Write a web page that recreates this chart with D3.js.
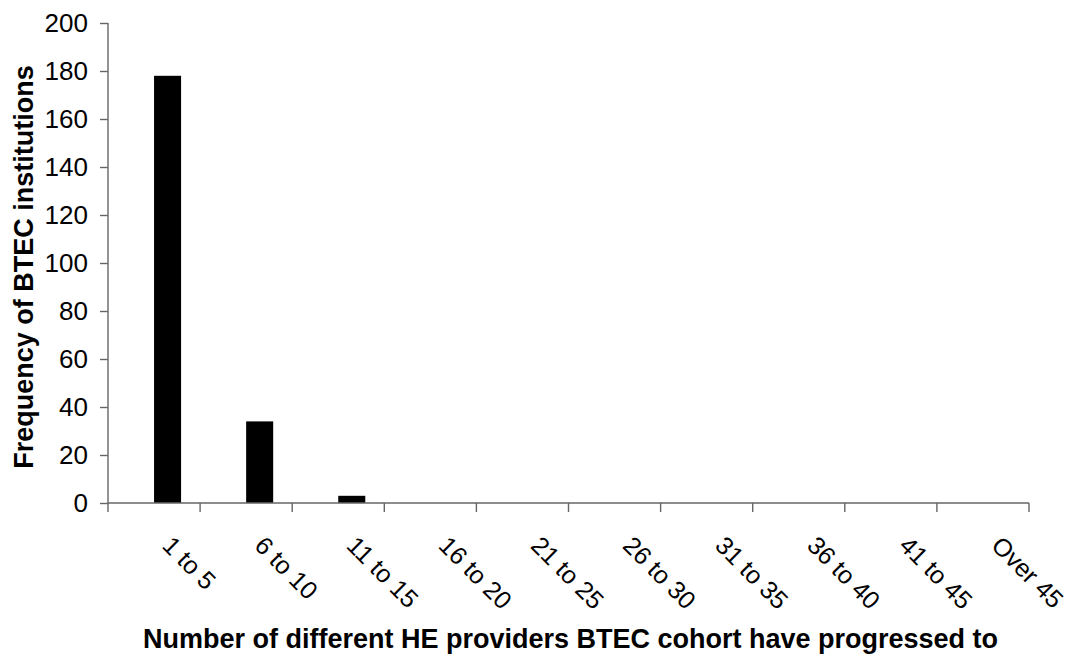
<!DOCTYPE html>
<html>
<head>
<meta charset="utf-8">
<script src="https://cdn.jsdelivr.net/npm/d3@7"></script>
<style>
  html, body { margin: 0; padding: 0; background: #fff; }
  svg { display: block; }
  text { font-family: "Liberation Sans", Arial, sans-serif; fill: #000; }
</style>
</head>
<body>
<svg id="chart" width="1077" height="657"></svg>
<script>
// ---- data ----
const categories = ["1 to 5", "6 to 10", "11 to 15", "16 to 20", "21 to 25",
                    "26 to 30", "31 to 35", "36 to 40", "41 to 45", "Over 45"];
const frequency = [178, 34, 3, 0, 0, 0, 0, 0, 0, 0];
const seriesSlots = ["(empty)", "Frequency"];
const yTicks = [0, 20, 40, 60, 80, 100, 120, 140, 160, 180, 200];
const xTitle = "Number of different HE providers BTEC cohort have progressed to";
const yTitle = "Frequency of BTEC institutions";

(function () {
  // ---- layout ----
  const svg = d3.select("#chart");
  const mLeft = 108, mRight = 1029, mTop = 23, mBottom = 503;
  const axisColor = "#666666";

  const x = d3.scaleBand().domain(categories).range([mLeft, mRight]).padding(0);
  const xInner = d3.scaleBand().domain(seriesSlots).range([0, x.bandwidth()])
    .paddingInner(0).paddingOuter(0.7037);
  const y = d3.scaleLinear().domain([0, 200]).range([mBottom, mTop]);

  // bars
  svg.append("g").selectAll("rect")
    .data(categories.map((c, i) => ({ c, v: frequency[i] })))
    .join("rect")
    .attr("x", d => x(d.c) + xInner("Frequency"))
    .attr("width", xInner.bandwidth())
    .attr("y", d => y(d.v))
    .attr("height", d => y(0) - y(d.v))
    .attr("fill", "#000");

  // y axis
  const yAxis = svg.append("g").attr("transform", `translate(${mLeft},0)`)
    .call(d3.axisLeft(y).tickValues(yTicks).tickSize(8).tickPadding(12).tickFormat(d3.format("d")));
  yAxis.select(".domain").attr("stroke", axisColor).attr("stroke-width", 1.4)
    .attr("d", `M0,${mTop}V${mBottom}`);
  yAxis.selectAll(".tick line").attr("stroke", axisColor).attr("stroke-width", 1.4);
  yAxis.selectAll(".tick text").attr("font-size", 26)
    .attr("font-family", "'Liberation Sans', Arial, sans-serif").attr("fill", "#000");

  // x axis (ticks at category boundaries)
  const boundaries = categories.map(c => x(c)).concat([x(categories[categories.length - 1]) + x.bandwidth()]);
  const xAxisG = svg.append("g");
  xAxisG.append("line").attr("x1", mLeft).attr("x2", mRight).attr("y1", mBottom).attr("y2", mBottom)
    .attr("stroke", axisColor).attr("stroke-width", 1.4);
  xAxisG.selectAll("line.tk").data(boundaries).join("line").attr("class", "tk")
    .attr("x1", d => d).attr("x2", d => d).attr("y1", mBottom).attr("y2", mBottom + 9)
    .attr("stroke", axisColor).attr("stroke-width", 1.4);

  xAxisG.selectAll("text.lbl").data(categories).join("text").attr("class", "lbl")
    .attr("transform", d => `translate(${x(d) + x.bandwidth() / 2 + 7},${mBottom + 44}) rotate(45)`)
    .attr("text-anchor", "start")
    .attr("font-size", 25)
    .text(d => d);

  // titles
  svg.append("text")
    .attr("x", (mLeft + mRight) / 2 + 2).attr("y", 648)
    .attr("text-anchor", "middle").attr("font-size", 27).attr("font-weight", "bold")
    .text(xTitle);

  svg.append("text")
    .attr("transform", `translate(33,${(mTop + mBottom) / 2 + 4}) rotate(-90)`)
    .attr("text-anchor", "middle").attr("font-size", 27).attr("font-weight", "bold")
    .text(yTitle);
})();
</script>
</body>
</html>
